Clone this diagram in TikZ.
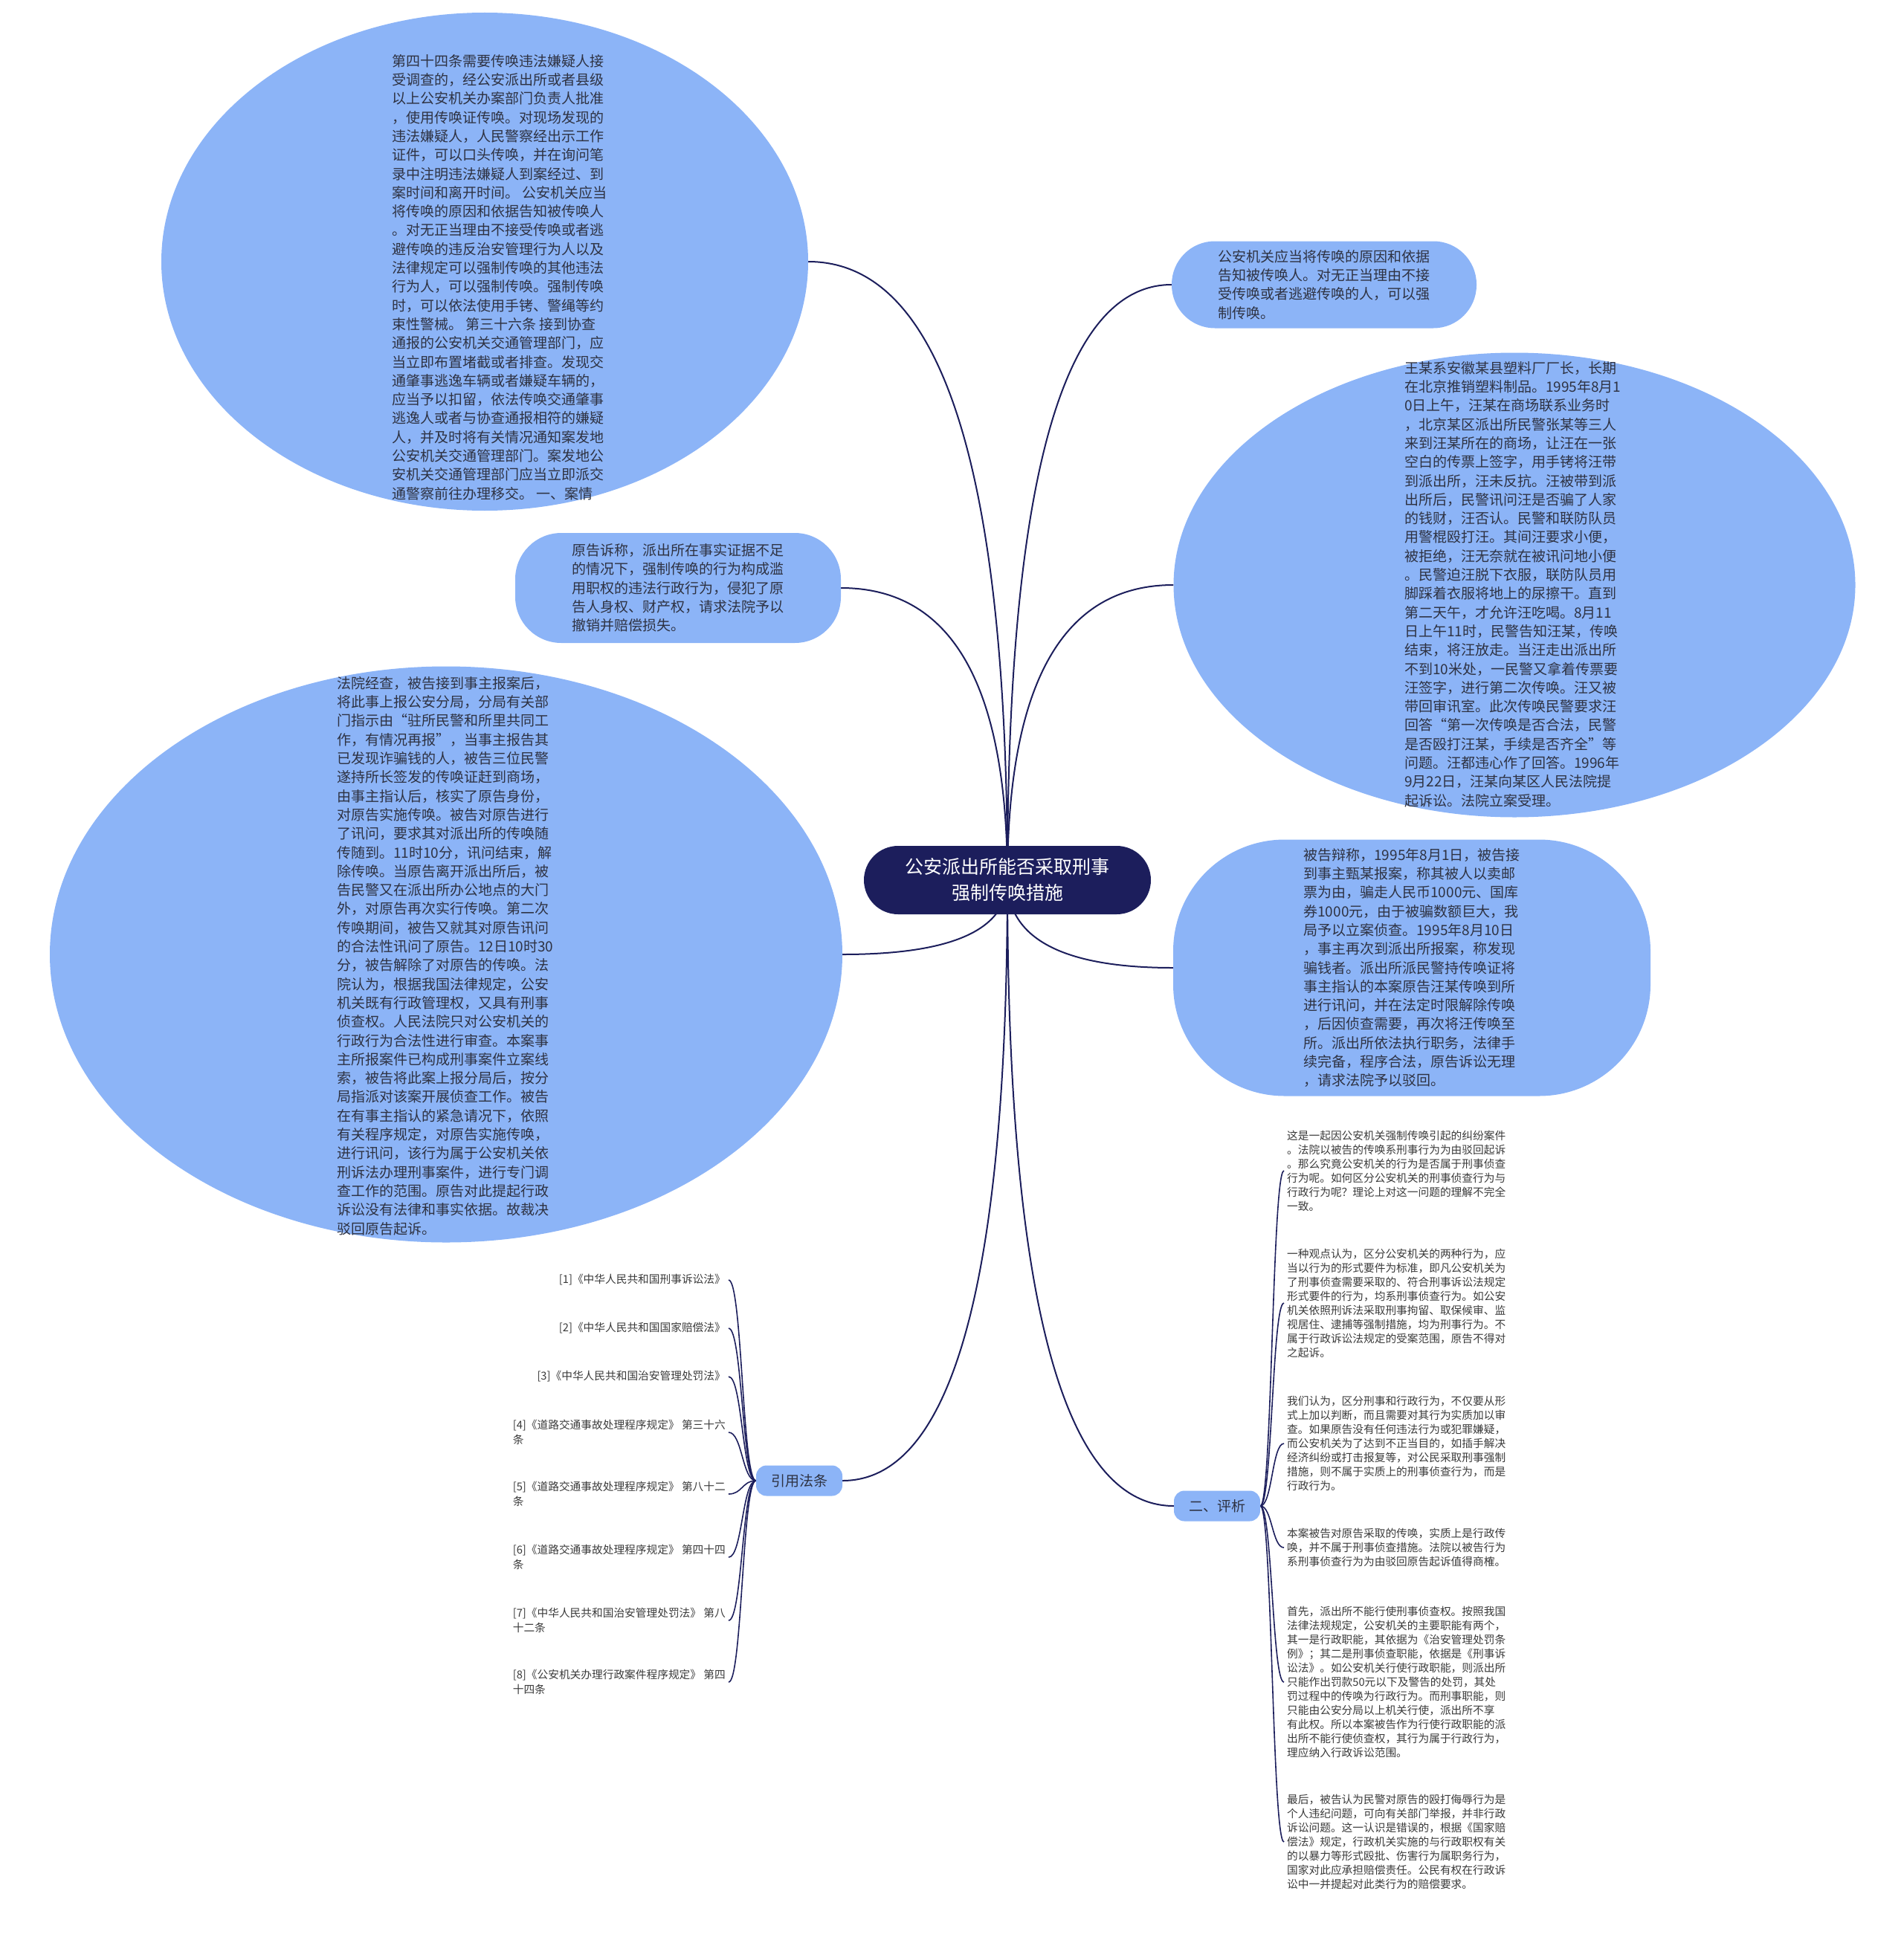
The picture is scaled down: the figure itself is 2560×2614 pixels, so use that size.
\documentclass[tikz,border=0pt]{standalone}
\usepackage{fontspec}
\setmainfont{Noto Sans CJK SC}
\usetikzlibrary{shapes.geometric,calc,backgrounds}
\definecolor{bubble}{HTML}{8CB4F7}
\definecolor{navy}{HTML}{1C1E5C}
\definecolor{ink}{HTML}{2E3242}
\definecolor{leaf}{HTML}{3A3A3A}
\begin{document}
\begin{tikzpicture}[x=1pt,y=-1pt,
  big/.style={font=\fontsize{19}{25.3}\selectfont, text=ink, align=left, inner sep=0pt},
  bub/.style={fill=bubble, draw=none},
  ell/.style={bub, ellipse, inner sep=0pt},
  rnd/.style={bub, big, rectangle, rounded corners=#1},
  tag/.style={bub, rectangle, rounded corners=14pt, font=\fontsize{19}{24}\selectfont, text=ink, inner sep=0pt, minimum width=116pt, minimum height=41pt},
  small/.style={font=\fontsize{14.7}{19}\selectfont, text=leaf, align=left, inner xsep=4pt, inner ysep=2pt},
  listitem/.style={font=\fontsize{14.7}{19.5}\selectfont, text=leaf, align=left, inner xsep=4pt, inner ysep=2pt, anchor=east},
  conn/.style={draw=navy, line width=2pt},
  conn2/.style={draw=navy, line width=1.6pt},
]
\useasboundingbox (0,0) rectangle (2560,2614);

% ---------- root ----------
\node[fill=navy, text=white, rounded corners=46pt, minimum width=386pt, minimum height=92pt,
      font=\fontsize{25}{35}\selectfont, align=center, inner sep=0pt] (root) at (1355,1184)
  {公安派出所能否采取刑事\\强制传唤措施};

% ---------- top-left ellipse ----------
\node[ell, minimum width=870pt, minimum height=670pt] (tl) at (652,352) {};
\node[big, anchor=west] (tlt) at (527,373) {第四十四条需要传唤违法嫌疑人接\\
受调查的，经公安派出所或者县级\\
以上公安机关办案部门负责人批准\\
，使用传唤证传唤。对现场发现的\\
违法嫌疑人，人民警察经出示工作\\
证件，可以口头传唤，并在询问笔\\
录中注明违法嫌疑人到案经过、到\\
案时间和离开时间。 公安机关应当\\
将传唤的原因和依据告知被传唤人\\
。对无正当理由不接受传唤或者逃\\
避传唤的违反治安管理行为人以及\\
法律规定可以强制传唤的其他违法\\
行为人，可以强制传唤。强制传唤\\
时，可以依法使用手铐、警绳等约\\
束性警械。 第三十六条 接到协查\\
通报的公安机关交通管理部门，应\\
当立即布置堵截或者排查。发现交\\
通肇事逃逸车辆或者嫌疑车辆的，\\
应当予以扣留，依法传唤交通肇事\\
逃逸人或者与协查通报相符的嫌疑\\
人，并及时将有关情况通知案发地\\
公安机关交通管理部门。案发地公\\
安机关交通管理部门应当立即派交\\
通警察前往办理移交。 一、案情};

% ---------- top-right small ----------
\node[rnd=58pt, minimum width=410pt, minimum height=117pt] (tr) at (1781,383)
  {公安机关应当将传唤的原因和依据\\
告知被传唤人。对无正当理由不接\\
受传唤或者逃避传唤的人，可以强\\
制传唤。};

% ---------- right big ellipse ----------
\node[ell, minimum width=917pt, minimum height=625pt] (rb) at (2037,787) {};
\node[big, anchor=west] (rbt) at (1889,786) {王某系安徽某县塑料厂厂长，长期\\
在北京推销塑料制品。1995年8月1\\
0日上午，汪某在商场联系业务时\\
，北京某区派出所民警张某等三人\\
来到汪某所在的商场，让汪在一张\\
空白的传票上签字，用手铐将汪带\\
到派出所，汪未反抗。汪被带到派\\
出所后，民警讯问汪是否骗了人家\\
的钱财，汪否认。民警和联防队员\\
用警棍殴打汪。其间汪要求小便，\\
被拒绝，汪无奈就在被讯问地小便\\
。民警迫汪脱下衣服，联防队员用\\
脚踩着衣服将地上的尿擦干。直到\\
第二天午，才允许汪吃喝。8月11\\
日上午11时，民警告知汪某，传唤\\
结束，将汪放走。当汪走出派出所\\
不到10米处，一民警又拿着传票要\\
汪签字，进行第二次传唤。汪又被\\
带回审讯室。此次传唤民警要求汪\\
回答“第一次传唤是否合法，民警\\
是否殴打汪某，手续是否齐全”等\\
问题。汪都违心作了回答。1996年\\
9月22日，汪某向某区人民法院提\\
起诉讼。法院立案受理。};

% ---------- left small ----------
\node[rnd=62pt, minimum width=438pt, minimum height=148pt] (ls) at (912,791)
  {原告诉称，派出所在事实证据不足\\
的情况下，强制传唤的行为构成滥\\
用职权的违法行政行为，侵犯了原\\
告人身权、财产权，请求法院予以\\
撤销并赔偿损失。};

% ---------- left big ellipse ----------
\node[ell, minimum width=1066pt, minimum height=775pt] (lb) at (600,1284) {};
\node[big, anchor=west] (lbt) at (453,1286) {法院经查，被告接到事主报案后，\\
将此事上报公安分局，分局有关部\\
门指示由“驻所民警和所里共同工\\
作，有情况再报”，当事主报告其\\
已发现诈骗钱的人，被告三位民警\\
遂持所长签发的传唤证赶到商场，\\
由事主指认后，核实了原告身份，\\
对原告实施传唤。被告对原告进行\\
了讯问，要求其对派出所的传唤随\\
传随到。11时10分，讯问结束，解\\
除传唤。当原告离开派出所后，被\\
告民警又在派出所办公地点的大门\\
外，对原告再次实行传唤。第二次\\
传唤期间，被告又就其对原告讯问\\
的合法性讯问了原告。12日10时30\\
分，被告解除了对原告的传唤。法\\
院认为，根据我国法律规定，公安\\
机关既有行政管理权，又具有刑事\\
侦查权。人民法院只对公安机关的\\
行政行为合法性进行审查。本案事\\
主所报案件已构成刑事案件立案线\\
索，被告将此案上报分局后，按分\\
局指派对该案开展侦查工作。被告\\
在有事主指认的紧急请况下，依照\\
有关程序规定，对原告实施传唤，\\
进行讯问，该行为属于公安机关依\\
刑诉法办理刑事案件，进行专门调\\
查工作的范围。原告对此提起行政\\
诉讼没有法律和事实依据。故裁决\\
驳回原告起诉。};

% ---------- right middle ----------
\node[rnd=150pt, minimum width=642pt, minimum height=345pt] (rm) at (1899,1302)
  {被告辩称，1995年8月1日，被告接\\
到事主甄某报案，称其被人以卖邮\\
票为由，骗走人民币1000元、国库\\
券1000元，由于被骗数额巨大，我\\
局予以立案侦查。1995年8月10日\\
，事主再次到派出所报案，称发现\\
骗钱者。派出所派民警持传唤证将\\
事主指认的本案原告汪某传唤到所\\
进行讯问，并在法定时限解除传唤\\
，后因侦查需要，再次将汪传唤至\\
所。派出所依法执行职务，法律手\\
续完备，程序合法，原告诉讼无理\\
，请求法院予以驳回。};

% ---------- branch tags ----------
\node[tag] (law) at (1075,1992) {引用法条};
\node[tag] (pg) at (1637,2026) {二、评析};

% ---------- law list ----------
\node[listitem] (l1) at (980,1722) {[1]《中华人民共和国刑事诉讼法》};
\node[listitem] (l2) at (980,1787) {[2]《中华人民共和国国家赔偿法》};
\node[listitem] (l3) at (980,1852) {[3]《中华人民共和国治安管理处罚法》};
\node[listitem] (l4) at (980,1927) {[4]《道路交通事故处理程序规定》 第三十六\\条};
\node[listitem] (l5) at (980,2010) {[5]《道路交通事故处理程序规定》 第八十二\\条};
\node[listitem] (l6) at (980,2095) {[6]《道路交通事故处理程序规定》 第四十四\\条};
\node[listitem] (l7) at (980,2180) {[7]《中华人民共和国治安管理处罚法》 第八\\十二条};
\node[listitem] (l8) at (980,2263) {[8]《公安机关办理行政案件程序规定》 第四\\十四条};

% ---------- critique list ----------
\node[small, anchor=west] (p1) at (1727,1575) {这是一起因公安机关强制传唤引起的纠纷案件\\
。法院以被告的传唤系刑事行为为由驳回起诉\\
。那么究竟公安机关的行为是否属于刑事侦查\\
行为呢。如何区分公安机关的刑事侦查行为与\\
行政行为呢？理论上对这一问题的理解不完全\\
一致。};
\node[small, anchor=west] (p2) at (1727,1753) {一种观点认为，区分公安机关的两种行为，应\\
当以行为的形式要件为标准，即凡公安机关为\\
了刑事侦查需要采取的、符合刑事诉讼法规定\\
形式要件的行为，均系刑事侦查行为。如公安\\
机关依照刑诉法采取刑事拘留、取保候审、监\\
视居住、逮捕等强制措施，均为刑事行为。不\\
属于行政诉讼法规定的受案范围，原告不得对\\
之起诉。};
\node[small, anchor=west] (p3) at (1727,1942) {我们认为，区分刑事和行政行为，不仅要从形\\
式上加以判断，而且需要对其行为实质加以审\\
查。如果原告没有任何违法行为或犯罪嫌疑，\\
而公安机关为了达到不正当目的，如插手解决\\
经济纠纷或打击报复等，对公民采取刑事强制\\
措施，则不属于实质上的刑事侦查行为，而是\\
行政行为。};
\node[small, anchor=west] (p4) at (1727,2082) {本案被告对原告采取的传唤，实质上是行政传\\
唤，并不属于刑事侦查措施。法院以被告行为\\
系刑事侦查行为为由驳回原告起诉值得商榷。};
\node[small, anchor=west] (p5) at (1727,2263) {首先，派出所不能行使刑事侦查权。按照我国\\
法律法规规定，公安机关的主要职能有两个，\\
其一是行政职能，其依据为《治安管理处罚条\\
例》；其二是刑事侦查职能，依据是《刑事诉\\
讼法》。如公安机关行使行政职能，则派出所\\
只能作出罚款50元以下及警告的处罚，其处\\
罚过程中的传唤为行政行为。而刑事职能，则\\
只能由公安分局以上机关行使，派出所不享\\
有此权。所以本案被告作为行使行政职能的派\\
出所不能行使侦查权，其行为属于行政行为，\\
理应纳入行政诉讼范围。};
\node[small, anchor=west] (p6) at (1727,2478) {最后，被告认为民警对原告的殴打侮辱行为是\\
个人违纪问题，可向有关部门举报，并非行政\\
诉讼问题。这一认识是错误的，根据《国家赔\\
偿法》规定，行政机关实施的与行政职权有关\\
的以暴力等形式殴批、伤害行为属职务行为，\\
国家对此应承担赔偿责任。公民有权在行政诉\\
讼中一并提起对此类行为的赔偿要求。};

% ---------- connectors ----------
\begin{scope}[on background layer]
\foreach \cn/\an in {tl/east,ls/east,lb/east,law/east,tr/west,rb/west,rm/west,pg/west}{
  \coordinate (k-\cn) at (root.center |- \cn.\an);
  \draw[conn] (root.center) .. controls ($(root.center)!0.667!(k-\cn)$) and ($(\cn.\an)!0.667!(k-\cn)$) .. (\cn.\an);
}
\foreach \cn in {l1,l2,l3,l4,l5,l6,l7,l8}{
  \coordinate (m-\cn) at ($(law.west)!0.5!(\cn.east)$);
  \draw[conn2] (law.west) .. controls (m-\cn |- law.west) and (m-\cn |- \cn.east) .. (\cn.east);
}
\foreach \cn in {p1,p2,p3,p4,p5,p6}{
  \coordinate (m-\cn) at ($(pg.east)!0.5!(\cn.west)$);
  \draw[conn2] (pg.east) .. controls (m-\cn |- pg.east) and (m-\cn |- \cn.west) .. (\cn.west);
}
\end{scope}
\end{tikzpicture}
\end{document}
